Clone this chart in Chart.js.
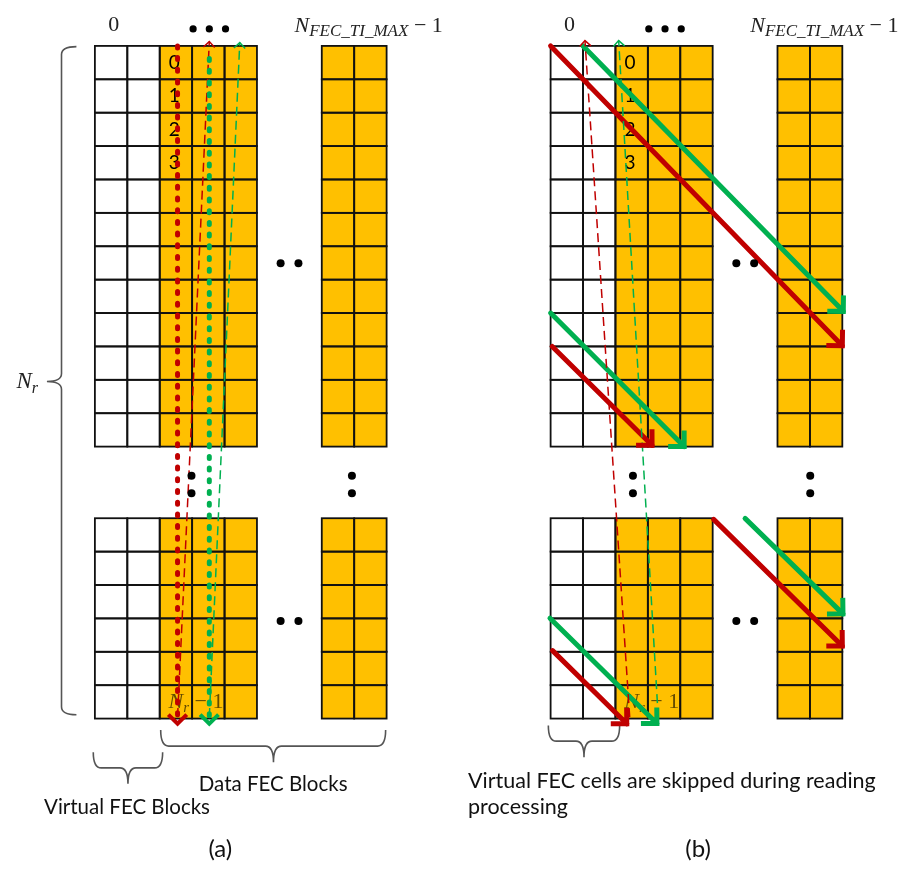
<!DOCTYPE html>
<html><head><meta charset="utf-8">
<script src="https://cdn.jsdelivr.net/npm/chart.js@4/dist/chart.umd.min.js"></script>
<style>html,body{margin:0;padding:0;background:#fff;}canvas{display:block}</style>
</head><body>
<canvas id="c" width="909" height="873"></canvas>
<script>
// ---------------- data (cell units: x = column, y = row) ----------------
const panelNames = ['(a)', '(b)'];
const virtualColumns = 2;
const dataColumns = 3;
const lastBlockColumns = 2;
const topGridRows = 12;
const bottomGridRows = 6;
const cellIndexLabels = ['0', '1', '2', '3'];
const firstBlockLabel = '0';
const lastBlockLabel = ['N', 'FEC_TI_MAX', ' − 1'];
const lastRowLabel = ['N', 'r', ' − 1'];
const rowCountLabel = ['N', 'r'];
const braceLabelsA = ['Virtual FEC Blocks', 'Data FEC Blocks'];
const braceLabelB = ['Virtual FEC cells are skipped during reading', 'processing'];

// reading / writing paths, panel (a)
const readRedA    = [[2.55, 0.00], [2.55, 20.30]];
const readGreenA  = [[3.53, 0.38], [3.53, 20.30]];
const writeRedA   = [[2.55, 20.10], [3.53, -0.13]];
const writeGreenA = [[3.53, 20.10], [4.47, -0.10]];
// panel (b)
const writeRedB   = [[2.44, 20.10], [1.06, -0.16]];
const writeGreenB = [[3.32, 20.10], [2.10, -0.16]];
const readRedB = [
  [[0.00, 0.00], [9.00, 8.98]],
  [[0.05, 9.00], [3.13, 11.96]],
  [[0.06, 18.11], [2.35, 20.30]],
  [[5.03, 14.18], [9.00, 17.97]]
];
const readGreenB = [
  [[1.00, 0.00], [9.03, 7.95]],
  [[0.00, 8.00], [4.12, 12.00]],
  [[-0.02, 17.14], [3.28, 20.29]],
  [[6.00, 14.15], [9.02, 17.01]]
];
// ellipsis dots
const ellipsisDots = [[3.03, -0.51], [3.53, -0.51], [4.03, -0.51]];
const gapDots = [[5.73, 6.51], [6.28, 6.51], [5.73, 17.22], [6.28, 17.22]];
const colonDotsA = [[2.98, 12.87], [2.98, 13.40], [7.93, 12.87], [7.93, 13.40]];
const colonDotsB = [[2.54, 12.87], [2.54, 13.40], [8.01, 12.87], [8.01, 13.40]];

// ---------------- layout ----------------
const CELL_W = 32.7, CELL_H = 33.7, ORIGIN_X = 91.7, ORIGIN_Y = 42.3;
const X_MIN = -ORIGIN_X / CELL_W, X_MAX = X_MIN + 909 / CELL_W;
const Y_MIN = -ORIGIN_Y / CELL_H, Y_MAX = Y_MIN + 873 / CELL_H;
const PANEL_DX = 14.06;
const BOTTOM_GRID_Y = 14.145;
const RED = '#C00000', GREEN = '#00B050', GOLD = '#FFC000';

const shift = (pts, dx) => pts.map(p => ({x: p[0] + dx, y: p[1]}));
const styles = {
  dotted: {borderWidth: 5, borderDash: [2, 9.7], borderCapStyle: 'round', head: {len: 13, lw: 4}},
  dashed: {borderWidth: 1.5, borderDash: [9, 5], borderCapStyle: 'butt', head: {len: 8, lw: 1.5}},
  solid:  {borderWidth: 5, borderDash: [], borderCapStyle: 'round', head: {len: 16, lw: 5}}
};
function path(pts, color, kind, dx) {
  const s = styles[kind];
  return {
    type: 'scatter', data: shift(pts, dx), showLine: true, pointRadius: 0,
    borderColor: color, borderWidth: s.borderWidth, borderDash: s.borderDash,
    borderCapStyle: s.borderCapStyle, fill: false, tension: 0, arrowHead: s.head
  };
}
const datasets = [];
datasets.push({type: 'scatter', data: shift(ellipsisDots, 0).concat(shift(ellipsisDots, PANEL_DX)),
  pointRadius: 3.6, pointBackgroundColor: '#000', pointBorderWidth: 0, showLine: false});
datasets.push({type: 'scatter', data: shift(gapDots, 0).concat(shift(gapDots, PANEL_DX)),
  pointRadius: 4, pointBackgroundColor: '#000', pointBorderWidth: 0, showLine: false});
datasets.push({type: 'scatter', data: shift(colonDotsA, 0).concat(shift(colonDotsB, PANEL_DX)),
  pointRadius: 4, pointBackgroundColor: '#000', pointBorderWidth: 0, showLine: false});
datasets.push(path(readRedA, RED, 'dotted', 0));
datasets.push(path(readGreenA, GREEN, 'dotted', 0));
datasets.push(path(writeRedA, RED, 'dashed', 0));
datasets.push(path(writeGreenA, GREEN, 'dashed', 0));
datasets.push(path(writeRedB, RED, 'dashed', PANEL_DX));
datasets.push(path(writeGreenB, GREEN, 'dashed', PANEL_DX));
readRedB.forEach(p => datasets.push(path(p, RED, 'solid', PANEL_DX)));
readGreenB.forEach(p => datasets.push(path(p, GREEN, 'solid', PANEL_DX)));

// ---------------- drawing helpers ----------------
function drawMath(ctx, X, Y, parts, x0, base, center) {
  let w = 0;
  parts.forEach(p => { ctx.font = p[1]; w += ctx.measureText(p[0]).width; });
  let x = X(x0) - (center ? w / 2 : 0);
  const y = Y(base);
  ctx.textAlign = 'left'; ctx.textBaseline = 'alphabetic';
  parts.forEach(p => { ctx.font = p[1]; ctx.fillText(p[0], x, y + p[2]); x += ctx.measureText(p[0]).width; });
}
function hBrace(ctx, x0, x1, yTop, yMid, yTip, xTip) {
  const r = 8;
  ctx.beginPath();
  ctx.moveTo(x0, yTop);
  ctx.quadraticCurveTo(x0, yMid, x0 + r, yMid);
  ctx.lineTo(xTip - r, yMid);
  ctx.quadraticCurveTo(xTip, yMid, xTip, yTip);
  ctx.quadraticCurveTo(xTip, yMid, xTip + r, yMid);
  ctx.lineTo(x1 - r, yMid);
  ctx.quadraticCurveTo(x1, yMid, x1, yTop);
  ctx.stroke();
}
function vBrace(ctx, xHook, xL, y0, y1, xTip, yMid) {
  const r = 8;
  ctx.beginPath();
  ctx.moveTo(xHook, y0);
  ctx.quadraticCurveTo(xL, y0, xL, y0 + r);
  ctx.lineTo(xL, yMid - r);
  ctx.quadraticCurveTo(xL, yMid, xTip, yMid);
  ctx.quadraticCurveTo(xL, yMid, xL, yMid + r);
  ctx.lineTo(xL, y1 - r);
  ctx.quadraticCurveTo(xL, y1, xHook, y1);
  ctx.stroke();
}

const diagramPlugin = {
  id: 'diagram',
  beforeDatasetsDraw(chart) {
    const ctx = chart.ctx;
    const X = v => chart.scales.x.getPixelForValue(v);
    const Y = v => chart.scales.y.getPixelForValue(v);
    ctx.save();
    const mainCols = virtualColumns + dataColumns;
    const lastStart = mainCols + 2;
    [0, 1].forEach(p => {
      const ox = p * PANEL_DX;
      [[0, topGridRows], [BOTTOM_GRID_Y, bottomGridRows]].forEach(([r0, n]) => {
        const cols = [];
        for (let c = 0; c < mainCols; c++) cols.push([c, c < virtualColumns ? '#FFFFFF' : GOLD]);
        for (let c = 0; c < lastBlockColumns; c++) cols.push([lastStart + c, GOLD]);
        cols.forEach(([c, col]) => {
          for (let r = 0; r < n; r++) {
            const x0 = X(ox + c), x1 = X(ox + c + 1), y0 = Y(r0 + r), y1 = Y(r0 + r + 1);
            ctx.fillStyle = col;
            ctx.fillRect(x0, y0, x1 - x0, y1 - y0);
          }
        });
        ctx.strokeStyle = '#111'; ctx.lineWidth = 1.8;
        cols.forEach(([c]) => {
          for (let r = 0; r < n; r++) {
            const x0 = X(ox + c), x1 = X(ox + c + 1), y0 = Y(r0 + r), y1 = Y(r0 + r + 1);
            ctx.strokeRect(x0, y0, x1 - x0, y1 - y0);
          }
        });
      });
      // column labels
      ctx.fillStyle = '#222';
      ctx.font = '22px "Liberation Serif"'; ctx.textAlign = 'center'; ctx.textBaseline = 'middle';
      ctx.fillText(firstBlockLabel, X(ox + 0.58), Y(-0.62));
      drawMath(ctx, X, Y, [[lastBlockLabel[0], 'italic 22px "Liberation Serif"', 0],
        [lastBlockLabel[1], 'italic 17px "Liberation Serif"', 4],
        [lastBlockLabel[2], '22px "Liberation Serif"', 0]], ox + 6.16, -0.42, false);
      // cell index labels
      ctx.fillStyle = '#000';
      ctx.font = '19px Lato'; ctx.textAlign = 'center'; ctx.textBaseline = 'middle';
      cellIndexLabels.forEach((t, i) => ctx.fillText(t, X(ox + 2.45), Y(i + 0.5)));
      // last row label
      ctx.fillStyle = 'rgba(60,45,0,0.8)';
      drawMath(ctx, X, Y, [[lastRowLabel[0], 'italic 22px "Liberation Serif"', 0],
        [lastRowLabel[1], 'italic 15px "Liberation Serif"', 4],
        [lastRowLabel[2], '22px "Liberation Serif"', 0]], ox + 3.12, BOTTOM_GRID_Y + 5.67, true);
      // panel name
      ctx.fillStyle = '#111'; ctx.font = '24px Lato'; ctx.textAlign = 'center'; ctx.textBaseline = 'middle';
      ctx.fillText(panelNames[p], X(ox + (p === 0 ? 3.87 : 4.55)), Y(24.06));
    });
    // left brace N_r
    ctx.strokeStyle = '#555'; ctx.lineWidth = 1.6;
    vBrace(ctx, X(-0.57), X(-1.03), Y(0.02), Y(20.03), X(-1.48), Y(10.05));
    ctx.fillStyle = '#222';
    drawMath(ctx, X, Y, [[rowCountLabel[0], 'italic 23px "Liberation Serif"', 0],
      [rowCountLabel[1], 'italic 16px "Liberation Serif"', 5]], -2.42, 10.23, false);
    // bottom braces
    hBrace(ctx, X(2.03), X(8.97), Y(20.49), Y(20.97), Y(21.45), X(5.51));
    hBrace(ctx, X(-0.05), X(2.09), Y(21.15), Y(21.62), Y(22.1), X(1.02));
    hBrace(ctx, X(PANEL_DX - 0.07), X(PANEL_DX + 2.13), Y(20.35), Y(20.82), Y(21.3), X(PANEL_DX + 1.03));
    ctx.fillStyle = '#111'; ctx.textBaseline = 'alphabetic';
    ctx.textAlign = 'center';
    ctx.font = '20.5px Lato';
    ctx.fillText(braceLabelsA[1], X(5.5), Y(22.31));
    ctx.fillText(braceLabelsA[0], X(0.99), Y(22.99));
    ctx.textAlign = 'left';
    ctx.font = '21.5px Lato';
    ctx.fillText(braceLabelB[0], X(PANEL_DX - 2.55), Y(22.22));
    ctx.fillText(braceLabelB[1], X(PANEL_DX - 2.55), Y(22.99));
    ctx.restore();
  },
  afterDatasetsDraw(chart) {
    const ctx = chart.ctx;
    chart.data.datasets.forEach((ds, i) => {
      if (!ds.arrowHead) return;
      const pts = chart.getDatasetMeta(i).data;
      const a = pts[pts.length - 2], b = pts[pts.length - 1];
      const ang = Math.atan2(b.y - a.y, b.x - a.x);
      const L = ds.arrowHead.len, spread = Math.PI / 4;
      ctx.save();
      ctx.strokeStyle = ds.borderColor; ctx.lineWidth = ds.arrowHead.lw;
      ctx.lineJoin = 'miter'; ctx.lineCap = 'butt'; ctx.setLineDash([]);
      ctx.beginPath();
      ctx.moveTo(b.x - L * Math.cos(ang - spread), b.y - L * Math.sin(ang - spread));
      ctx.lineTo(b.x, b.y);
      ctx.lineTo(b.x - L * Math.cos(ang + spread), b.y - L * Math.sin(ang + spread));
      ctx.stroke();
      ctx.restore();
    });
  }
};

function build() {
  new Chart(document.getElementById('c').getContext('2d'), {
    type: 'scatter',
    data: {datasets},
    options: {
      responsive: false, animation: false, devicePixelRatio: 1,
      layout: {padding: 0},
      plugins: {legend: {display: false}, tooltip: {enabled: false}},
      scales: {
        x: {type: 'linear', min: X_MIN, max: X_MAX, display: false},
        y: {type: 'linear', min: Y_MIN, max: Y_MAX, reverse: true, display: false}
      }
    },
    plugins: [diagramPlugin]
  });
}
Promise.all(['18px Lato', '22px "Liberation Serif"', 'italic 22px "Liberation Serif"'].map(f => document.fonts.load(f)))
  .then(build, build);
</script>
</body></html>
